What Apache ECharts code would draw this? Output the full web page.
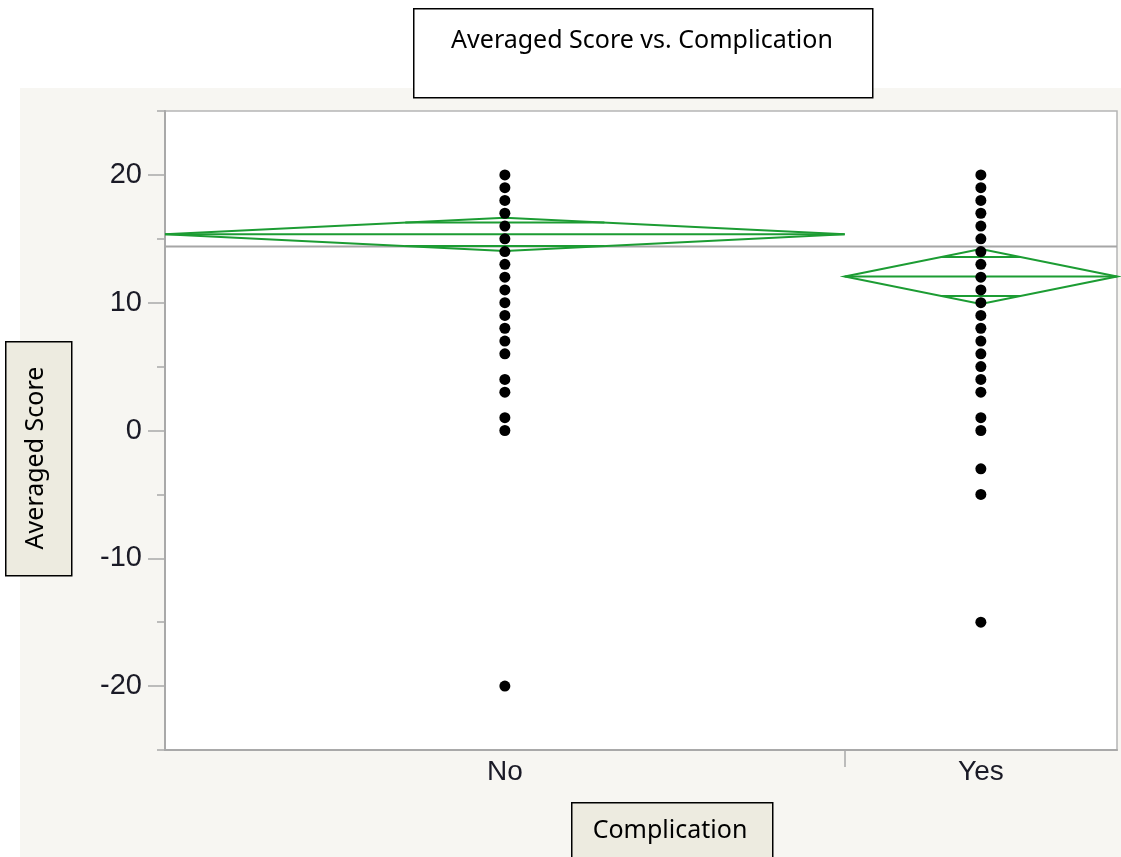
<!DOCTYPE html>
<html>
<head>
<meta charset="utf-8">
<script src="https://cdn.jsdelivr.net/npm/echarts@6/dist/echarts.min.js"></script>
<style>
  html, body { margin: 0; padding: 0; background: #fff; }
  #chart { width: 1121px; height: 857px; }
</style>
</head>
<body>
<div id="chart"></div>
<script>
// groups and their share of the x axis (JMP sizes the columns by sample count)
var categories = ['No', 'Yes'];
var groupShare = [0.714, 0.286];

// individual averaged scores
var scoresNo = [20, 19, 18, 17, 16, 15, 14, 13, 12, 11, 10, 9, 8, 7, 6, 4, 3, 1, 0, -20];
var scoresYes = [20, 19, 18, 17, 16, 15, 14, 13, 12, 11, 10, 9, 8, 7, 6, 5, 4, 3, 1, 0, -3, -5, -15];

// means diamonds: group mean and 95% CI half width
var groupMeans = [15.35, 12.05];
var groupCI = [1.3, 2.15];
var grandMean = 14.4;

var yTicks = [-20, -10, 0, 10, 20];

// x extents of each group in axis units
var groupStart = [];
var acc = 0;
groupShare.forEach(function (s) { groupStart.push(acc); acc += s; });
var groupCenter = groupShare.map(function (s, i) { return groupStart[i] + s / 2; });

var pointsData = [];
scoresNo.forEach(function (v) { pointsData.push([groupCenter[0], v]); });
scoresYes.forEach(function (v) { pointsData.push([groupCenter[1], v]); });

var green = '#1c9c33';
var axisGray = '#a9a9a9';
var boxFont = '25px "Noto Sans"';

var myChart = echarts.init(document.getElementById('chart'));

var option = {
    backgroundColor: '#f7f6f2',
    animation: false,
    grid: {
        left: 165, top: 111, width: 952, height: 639,
        show: true, backgroundColor: '#fff',
        borderColor: '#b5b5b5', borderWidth: 1.5
    },
    xAxis: {
        type: 'value', min: 0, max: 1,
        axisLine: { show: true, onZero: false, lineStyle: { color: axisGray, width: 2 } },
        axisTick: { show: true, length: 17, customValues: [groupStart[1]], lineStyle: { color: axisGray, width: 1.5 } },
        axisLabel: {
            show: true, customValues: groupCenter, margin: 8,
            fontFamily: 'Liberation Sans', fontSize: 28, color: '#1a1a26',
            formatter: function (v) {
                var best = 0;
                groupCenter.forEach(function (c, i) {
                    if (Math.abs(c - v) < Math.abs(groupCenter[best] - v)) best = i;
                });
                return categories[best];
            }
        },
        splitLine: { show: false }
    },
    yAxis: [{
        type: 'value', min: -25, max: 25, interval: 5,
        axisLine: { show: true, onZero: false, lineStyle: { color: axisGray, width: 2 } },
        axisTick: { show: true, length: 8, lineStyle: { color: axisGray, width: 1.5 } },
        axisLabel: { show: false },
        splitLine: { show: false }
    }, {
        type: 'value', min: -25, max: 25, position: 'left',
        axisLine: { show: false, onZero: false },
        axisTick: { show: true, length: 17, customValues: yTicks, lineStyle: { color: axisGray, width: 1.5 } },
        axisLabel: {
            show: true, customValues: yTicks, margin: 23,
            fontFamily: 'Liberation Sans', fontSize: 29, color: '#1a1a26'
        },
        splitLine: { show: false }
    }],
    series: [{
        // grand mean line
        type: 'line',
        data: [[0, grandMean], [1, grandMean]],
        symbol: 'none',
        lineStyle: { color: '#a6a6a6', width: 2 },
        z: 2,
        silent: true
    }, {
        // means diamonds
        type: 'custom',
        data: groupMeans.map(function (m, i) { return [i, m, groupCI[i]]; }),
        renderItem: function (params, api) {
            var i = api.value(0);
            var m = api.value(1);
            var ci = api.value(2);
            var x0 = groupStart[i], x1 = groupStart[i] + groupShare[i], xc = groupCenter[i];
            var L = api.coord([x0, m]);
            var R = api.coord([x1, m]);
            var T = api.coord([xc, m + ci]);
            var B = api.coord([xc, m - ci]);
            var off = ci / Math.SQRT2;
            var frac = 1 - 1 / Math.SQRT2;
            var half = (x1 - x0) / 2 * frac;
            var oU0 = api.coord([xc - half, m + off]), oU1 = api.coord([xc + half, m + off]);
            var oD0 = api.coord([xc - half, m - off]), oD1 = api.coord([xc + half, m - off]);
            var style = { stroke: green, lineWidth: 2, fill: null };
            return {
                type: 'group',
                children: [
                    { type: 'polygon', shape: { points: [L, T, R, B] }, style: style },
                    { type: 'line', shape: { x1: L[0], y1: L[1], x2: R[0], y2: R[1] }, style: style },
                    { type: 'line', shape: { x1: oU0[0], y1: oU0[1], x2: oU1[0], y2: oU1[1] }, style: style },
                    { type: 'line', shape: { x1: oD0[0], y1: oD0[1], x2: oD1[0], y2: oD1[1] }, style: style }
                ]
            };
        },
        z: 3,
        silent: true
    }, {
        type: 'scatter',
        data: pointsData,
        symbol: 'circle',
        symbolSize: 11,
        itemStyle: { color: '#000', opacity: 1 },
        z: 4
    }],
    graphic: [
        // white margin strips outside the report panel
        { type: 'rect', left: 0, top: 0, shape: { width: 1121, height: 88 }, style: { fill: '#fff' }, silent: true },
        { type: 'rect', left: 0, top: 0, shape: { width: 20, height: 857 }, style: { fill: '#fff' }, silent: true },
        // title box
        { type: 'rect', left: 413, top: 8, shape: { width: 459, height: 89 }, style: { fill: '#fff', stroke: '#000', lineWidth: 1.5 } },
        { type: 'text', x: 642, y: 41, style: { text: 'Averaged Score vs. Complication', font: boxFont, fill: '#000', align: 'center', verticalAlign: 'middle' } },
        // y axis title box
        { type: 'rect', left: 5, top: 341, shape: { width: 66, height: 234 }, style: { fill: '#edebe0', stroke: '#000', lineWidth: 1.5 } },
        { type: 'text', x: 36, y: 458, rotation: Math.PI / 2, style: { text: 'Averaged Score', font: boxFont, fill: '#000', align: 'center', verticalAlign: 'middle' } },
        // x axis title box
        { type: 'rect', left: 571, top: 802, shape: { width: 201, height: 70 }, style: { fill: '#edebe0', stroke: '#000', lineWidth: 1.5 } },
        { type: 'text', x: 670, y: 831, style: { text: 'Complication', font: boxFont, fill: '#000', align: 'center', verticalAlign: 'middle' } }
    ]
};

myChart.setOption(option);
</script>
</body>
</html>
